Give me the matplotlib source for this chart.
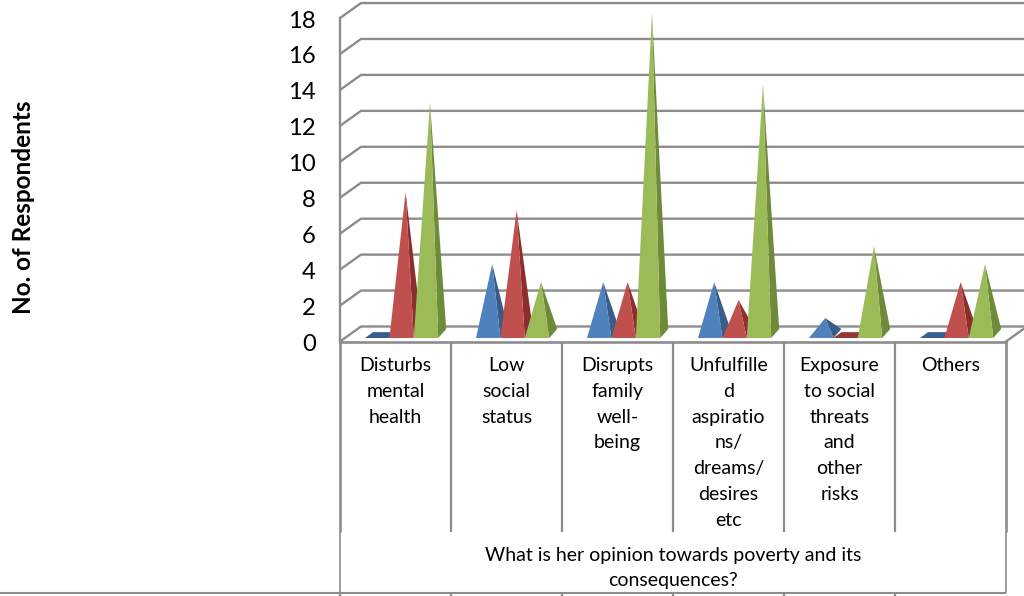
import matplotlib
matplotlib.use("Agg")
import matplotlib.pyplot as plt
from matplotlib.patches import Polygon

categories = ["Disturbs\nmental\nhealth", "Low\nsocial\nstatus", "Disrupts\nfamily\nwell-\nbeing",
              "Unfulfille\nd\naspiratio\nns/\ndreams/\ndesires\netc",
              "Exposure\nto social\nthreats\nand\nother\nrisks", "Others"]
series_blue = [0, 4, 3, 3, 1, 0]
series_red = [8, 7, 3, 2, 0, 3]
series_green = [13, 3, 18, 14, 5, 4]
y_ticks = list(range(0, 20, 2))
y_title = "No. of Respondents"
x_title = "What is her opinion towards poverty and its\nconsequences?"

W, H = 1024, 596
CW = 111.0          # px per category
VH = 17.97          # px per value unit
X0, Y0 = 340.0, 341.5
GRID = "#8c8c8c"
FONT = "Lato"
CELL_FS = 14.0

fig = plt.figure(figsize=(W / 100, H / 100), dpi=100)
ax = fig.add_axes([0, 0, 1, 1])
ax.set_xlim(-X0 / CW, (W - X0) / CW)
ax.set_ylim((Y0 - H) / VH, Y0 / VH)
ax.axis("off")

def px(x):
    return x / CW

def py(y):
    return y / VH

DX, DY = px(21), py(15)
n = len(categories)

# floor first, then walls and gridlines
ax.fill([0, n, n + DX, DX], [0, 0, DY, DY], color="white", zorder=0.5)
for v in y_ticks:
    ax.plot([0, DX, n + DX + 1], [v, v + DY, v + DY], color=GRID, lw=1.7, zorder=1, solid_capstyle="butt")
    ax.text(px(-24), v - py(3), str(v), ha="right", va="center", fontsize=17.2, family=FONT, color="black")
ax.plot([0, 0], [0, max(y_ticks)], color=GRID, lw=1.7, zorder=1)
ax.plot([n, n + DX], [0, DY], color=GRID, lw=1.7, zorder=1)

# pyramids
styles = [("#4F81BD", "#385D8A", "#365F91"),
          ("#C0504D", "#8C2F2C", "#953735"),
          ("#9BBB59", "#6E8B3A", "#76923C")]
series = [series_blue, series_red, series_green]
BASE = py(3.5)
START, BW = px(25), px(24.4)
SDX, SDY = px(8), py(9)
z = 2.0
for i in range(n):
    for j, vals in enumerate(series):
        v = vals[i]
        front, side, flat = styles[j]
        x0 = i + START + j * BW
        x1 = x0 + BW
        ax_x = (x0 + x1) / 2 + SDX / 2
        y0 = BASE
        if v == 0:
            ax.add_patch(Polygon([(x0, y0), (x1, y0), (x1 + SDX, y0 + SDY * 0.65), (x0 + SDX, y0 + SDY * 0.65)],
                                 closed=True, fc=flat, ec="none", zorder=z))
        else:
            top = y0 + py(2) + v
            ax.add_patch(Polygon([(x1, y0), (x1 + SDX, y0 + SDY), (ax_x, top)], closed=True, fc=side, ec="none", zorder=z))
            z += 0.01
            ax.add_patch(Polygon([(x0, y0), (x1, y0), (ax_x, top)], closed=True, fc=front, ec="none", zorder=z))
        z += 0.01

# data table
TOP = 0
R1 = -(532 - Y0) / VH
R2 = -(593 - Y0) / VH
BOT = -(H + 2 - Y0) / VH
ax.plot([0, n], [TOP, TOP], color=GRID, lw=1.9, zorder=5)
for k in range(n + 1):
    ax.plot([k, k], [TOP, R1], color=GRID, lw=1.9 if k in (0, n) else 1.6, zorder=5, solid_capstyle="butt")
    if k < n:
        ax.plot([k, k], [R2, BOT], color=GRID, lw=1.6, zorder=5, solid_capstyle="butt")
ax.plot([0, 0], [R1, BOT], color=GRID, lw=1.2, zorder=5, solid_capstyle="butt")
ax.plot([n, n], [R1, R2], color=GRID, lw=1.2, zorder=5, solid_capstyle="butt")
ax.plot([px(-X0), n], [R2, R2], color=GRID, lw=1.5, zorder=5, solid_capstyle="butt")
for i, c in enumerate(categories):
    ax.text(i + 0.5, py(-15.5), c, ha="center", va="top", fontsize=CELL_FS, family=FONT, color="black",
            linespacing=1.63, zorder=6)
ax.text(n / 2, py(-(568 - Y0)), x_title, ha="center", va="center", fontsize=CELL_FS, family=FONT, color="black",
        linespacing=1.63, zorder=6)
ax.text(px(24 - X0), py(Y0 - 207), y_title, rotation=90, ha="center", va="center", fontsize=17.5,
        family=FONT, fontweight="bold", color="black")

fig.savefig("out.png", dpi=100, facecolor="white")
